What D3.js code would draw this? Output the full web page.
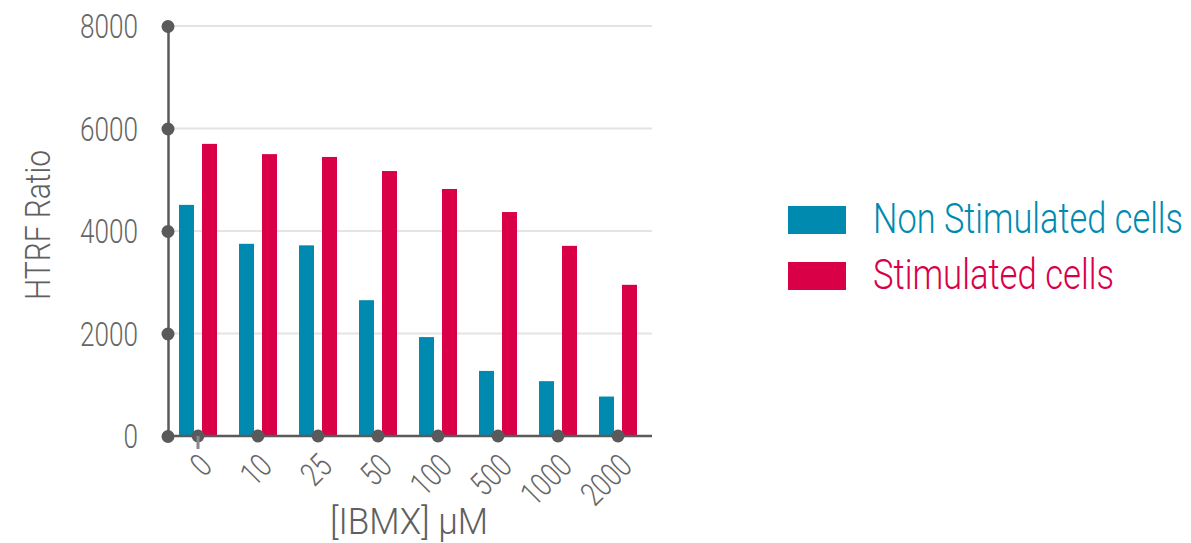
<!DOCTYPE html>
<html><head><meta charset="utf-8">
<script src="https://cdn.jsdelivr.net/npm/d3@7"></script>
<style>
body{margin:0;background:#fff;}
text{font-family:Roboto,"Liberation Sans",sans-serif;font-weight:300;}
</style></head>
<body><svg id="c" width="1191" height="543"></svg>
<script>
const categories = ["0","10","25","50","100","500","1000","2000"];
const nonStimulated = [4510, 3750, 3720, 2650, 1930, 1270, 1070, 770];
const stimulated = [5700, 5500, 5445, 5170, 4820, 4370, 3710, 2950];
const yTicks = [0, 2000, 4000, 6000, 8000];
const seriesNames = ["Non Stimulated cells", "Stimulated cells"];
const colors = ["#008ab0", "#d90048"];

const svg = d3.select("#c");
const x0 = 168, x1 = 648, yBase = 436, yTop = 26;
const x = d3.scaleBand().domain(categories).range([x0, x1]);
const y = d3.scaleLinear().domain([0, 8000]).range([yBase, yTop]);
const gray = "#5a5a5a";

// gridlines
svg.append("g").selectAll("line").data(yTicks.filter(d=>d>0)).join("line")
  .attr("x1", x0).attr("x2", 652).attr("y1", d=>y(d)).attr("y2", d=>y(d))
  .attr("stroke", "#e4e4e4").attr("stroke-width", 2);

// bars
const bw = 15, gap = 4;
svg.append("g").selectAll("rect").data(categories).join("rect")
  .attr("x", d => x(d) + x.bandwidth()/2 - gap - bw)
  .attr("width", bw)
  .attr("y", (d,i) => y(nonStimulated[i]))
  .attr("height", (d,i) => yBase - y(nonStimulated[i]))
  .attr("fill", colors[0]);
svg.append("g").selectAll("rect").data(categories).join("rect")
  .attr("x", d => x(d) + x.bandwidth()/2 + gap)
  .attr("width", bw)
  .attr("y", (d,i) => y(stimulated[i]))
  .attr("height", (d,i) => yBase - y(stimulated[i]))
  .attr("fill", colors[1]);

// y axis
const yAxis = d3.axisLeft(y).tickValues(yTicks).tickSize(0).tickPadding(30).tickFormat(d3.format("d"));
const gy = svg.append("g").attr("transform", `translate(${x0},0)`).call(yAxis);
gy.select(".domain").attr("stroke", gray).attr("stroke-width", 2.5);
gy.selectAll("text").attr("fill", "#666").style("font-size", "33px")
  .attr("textLength", d => String(d).length * 14.5).attr("lengthAdjust", "spacingAndGlyphs")
  .attr("dy", "0.36em");
gy.selectAll(".tick").append("circle").attr("r", 6.5).attr("fill", gray);

// x axis
const xAxis = d3.axisBottom(x).tickSize(0).tickPadding(0);
const gx = svg.append("g").attr("transform", `translate(0,${yBase})`).call(xAxis);
gx.select(".domain").attr("stroke", gray).attr("stroke-width", 2.5).attr("d", `M${x0},0H652`);
gx.selectAll(".tick").append("circle").attr("r", 6.5).attr("fill", gray);
gx.selectAll(".tick text")
  .attr("fill", "#666").style("font-size", "33px")
  .attr("text-anchor", "end")
  .attr("textLength", d => d.length * 14).attr("lengthAdjust", "spacingAndGlyphs")
  .attr("y", 0).attr("dy", 0)
  .attr("transform", "translate(16,32) rotate(-45)");
// small tick mark under first category
gx.append("line").attr("x1", x(categories[0]) + x.bandwidth()/2).attr("x2", x(categories[0]) + x.bandwidth()/2)
  .attr("y1", 0).attr("y2", 13).attr("stroke", "#888").attr("stroke-width", 3);

// axis titles
svg.append("text").attr("x", 409).attr("y", 534).attr("text-anchor", "middle")
  .attr("fill", "#5f5f5f").style("font-size", "36px")
  .attr("textLength", 158).attr("lengthAdjust", "spacingAndGlyphs").text("[IBMX] µM");
svg.append("text").attr("transform", "translate(50,225) rotate(-90)").attr("text-anchor", "middle")
  .attr("fill", "#5f5f5f").style("font-size", "35px")
  .attr("textLength", 150).attr("lengthAdjust", "spacingAndGlyphs").text("HTRF Ratio");

// legend
const lg = svg.append("g");
const legendY = [206, 262];
lg.selectAll("rect").data(seriesNames).join("rect")
  .attr("x", 788).attr("y", (d,i)=>legendY[i]).attr("width", 58).attr("height", 28)
  .attr("fill", (d,i)=>colors[i]);
const legendW = [310, 241];
lg.selectAll("g.lt").data(seriesNames).join("g").attr("class", "lt")
  .attr("transform", (d,i)=>`translate(873,${legendY[i] + 27}) scale(1,1.35)`)
  .append("text").attr("x", 0).attr("y", 0)
  .attr("fill", (d,i)=>colors[i]).style("font-size", "31px")
  .attr("textLength", (d,i)=>legendW[i]).attr("lengthAdjust", "spacingAndGlyphs")
  .text(d=>d);
</script></body></html>
